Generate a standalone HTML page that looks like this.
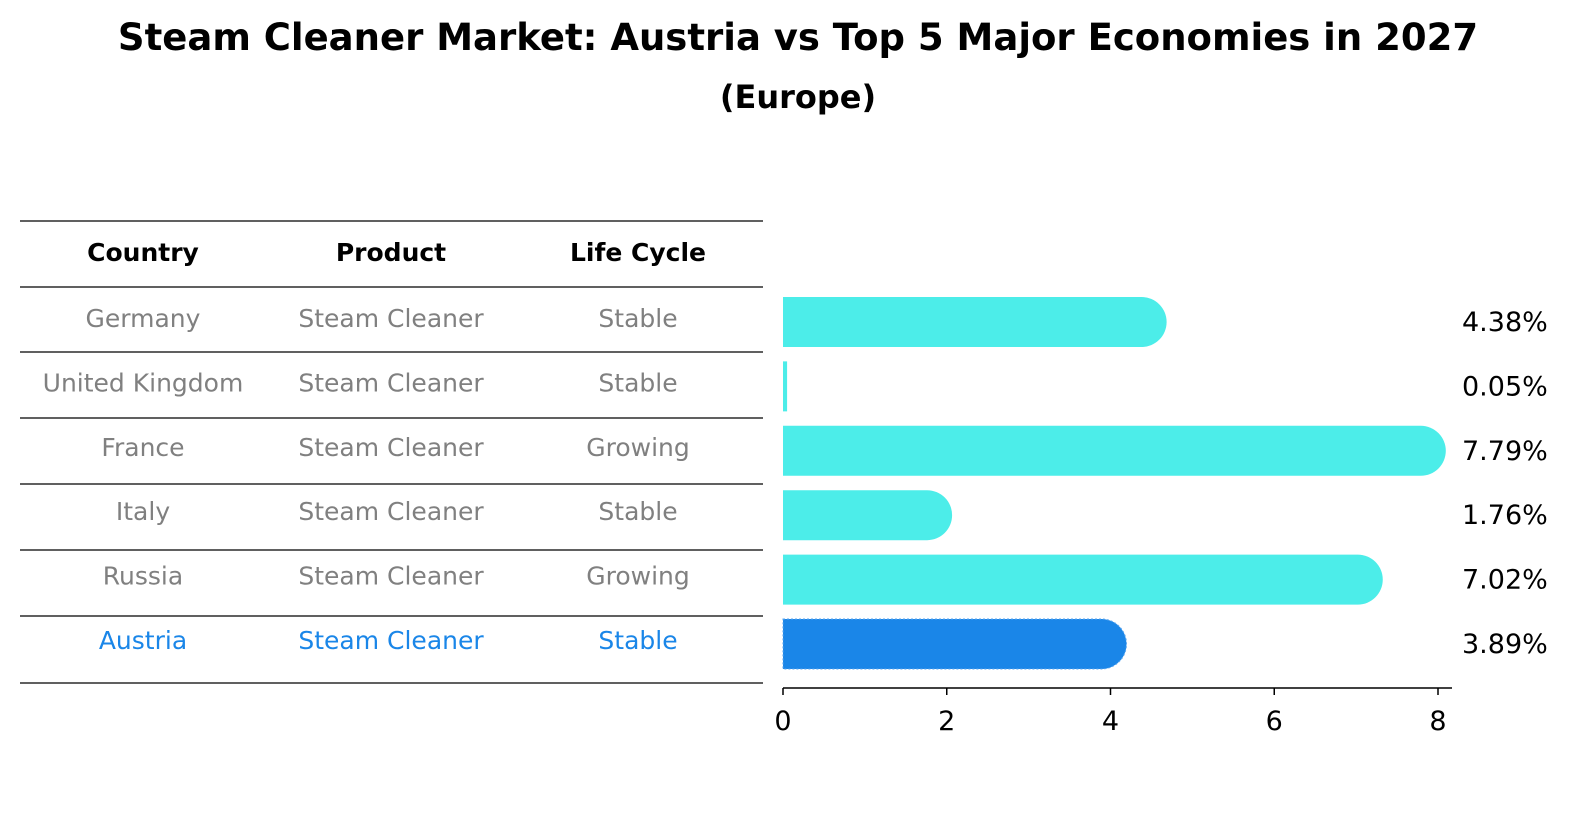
<!DOCTYPE html>
<html><head><meta charset="utf-8"><style>
body{margin:0;background:#fff;font-family:"DejaVu Sans","Liberation Sans",sans-serif}
svg{display:block}
</style></head><body>
<svg id="c" width="1586" height="823" viewBox="0 0 1586 823" xmlns="http://www.w3.org/2000/svg">
<text x="798" y="50" text-anchor="middle" font-size="37" font-weight="bold">Steam Cleaner Market: Austria vs Top 5 Major Economies in 2027</text>
<text x="798" y="108" text-anchor="middle" font-size="32" font-weight="bold">(Europe)</text>
<g id="tbl"></g>
<g id="bars"></g>
</svg>
<script>
const countries=["Germany","United Kingdom","France","Italy","Russia","Austria"];
const products=["Steam Cleaner","Steam Cleaner","Steam Cleaner","Steam Cleaner","Steam Cleaner","Steam Cleaner"];
const lifeCycles=["Stable","Stable","Growing","Stable","Growing","Stable"];
const values=[4.38,0.05,7.79,1.76,7.02,3.89];
const valueLabels=["4.38%","0.05%","7.79%","1.76%","7.02%","3.89%"];
const xTicks=[0,2,4,6,8];
const NS="http://www.w3.org/2000/svg";
function mk(tag,attrs,parent,text){const e=document.createElementNS(NS,tag);for(const k in attrs)e.setAttribute(k,attrs[k]);if(text!==undefined)e.textContent=text;parent.appendChild(e);return e;}
const tbl=document.getElementById('tbl');
const lineYs=[221,287,352,418,484,550,616,683];
lineYs.forEach((y,i)=>{const l=mk('line',{x1:20,x2:763,y1:y,y2:y,stroke:'#000','stroke-width':1.2},tbl);

});
const colX=[143,391,638];
["Country","Product","Life Cycle"].forEach((h,i)=>{const t=mk('text',{x:colX[i],y:261,'text-anchor':'middle','font-size':25,'font-weight':'bold'},tbl,h);

});
function rowY(i){return 322+i*64.4;}
countries.forEach((c,i)=>{const last=i===countries.length-1;const col=last?'#1a86e8':'#808080';
[c,products[i],lifeCycles[i]].forEach((v,j)=>{const t=mk('text',{x:colX[j],y:rowY(i)+5,'text-anchor':'middle','font-size':25,fill:col},tbl,v);

});});
const bars=document.getElementById('bars');
const x0=783,pxPer=(1438-783)/8;
function xs(v){return x0+v*pxPer;}
const r=25;
values.forEach((v,i)=>{const cy=rowY(i);const last=i===values.length-1;const col=last?'#1a86e8':'#4cede9';
const xe=xs(v);let d;
if(v*pxPer<r){d=`M${x0} ${cy-r} H${Math.max(xe,x0+3)} V${cy+r} H${x0} Z`;}
else d=`M${x0} ${cy-r} H${xe} A${r} ${r} 0 0 1 ${xe} ${cy+r} H${x0} Z`;
const p=mk('path',{d:d,fill:col},bars);
if(last){p.setAttribute('stroke','#5aa6f0');p.setAttribute('stroke-dasharray','2 2');p.setAttribute('stroke-width','1');}


const t=mk('text',{x:1462,y:cy+9,'font-size':27},bars,valueLabels[i]);

});
const ax=mk('line',{x1:783,x2:1452,y1:688,y2:688,stroke:'#000','stroke-width':1.5},bars);


xTicks.forEach(t=>{const tk=mk('line',{x1:xs(t),x2:xs(t),y1:688,y2:695,stroke:'#000','stroke-width':1.5},bars);


const lb=mk('text',{x:xs(t),y:730,'text-anchor':'middle','font-size':27},bars,String(t));

});
</script>
</body></html>
